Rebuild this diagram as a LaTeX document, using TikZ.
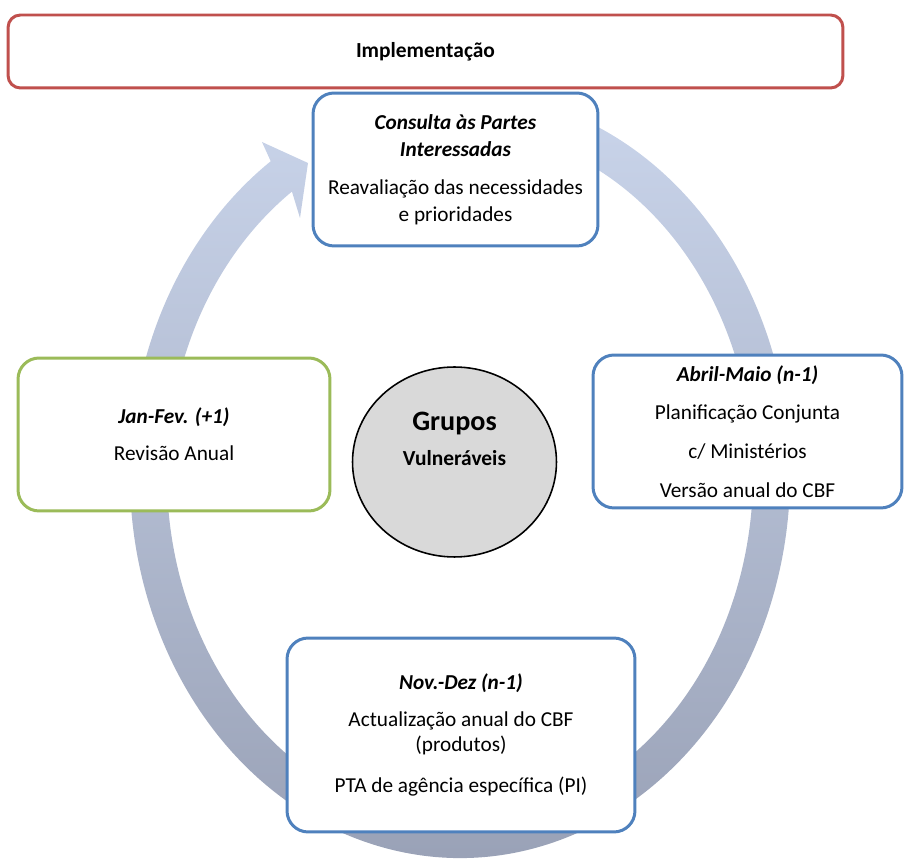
\documentclass[tikz,border=0pt]{standalone}
\usepackage{fontspec}
\setmainfont{Carlito}
\usepackage{xcolor}
\usepackage{tikz}
\usetikzlibrary{positioning, shapes.geometric}

\definecolor{implred}{HTML}{C0504D}
\definecolor{stepblue}{HTML}{4F81BD}
\definecolor{stepgreen}{HTML}{9BBB59}
\definecolor{ringtop}{HTML}{C9D4EA}
\definecolor{ringbottom}{HTML}{979FB4}
\definecolor{hubgray}{HTML}{D9D9D9}

\newcommand{\boxhead}[1]{\textbf{\textit{#1}}}

\begin{document}
\begin{tikzpicture}[
    x=0.02cm, y=0.02cm,
    phase/.style={rectangle, rounded corners=12pt, draw=stepblue, line width=1.7pt, fill=white,
        align=center, inner sep=0pt, font=\fontsize{12.1}{15.3}\selectfont},
    impl/.style={rectangle, rounded corners=7pt, draw=implred, line width=1.7pt, fill=white,
        inner sep=0pt, font=\fontsize{12.2}{14}\selectfont\bfseries},
    hub/.style={ellipse, draw, line width=0.9pt, fill=hubgray, inner sep=0pt},
    ring/.style={top color=ringtop, bottom color=ringbottom}
]
    \useasboundingbox (0,0) rectangle (904,859);

    % Cycle arrow
    \coordinate (ringc) at (460,384);
    \shade[ring] ([shift={(ringc)}]75:330 and 383)
        arc[start angle=75, end angle=-235, x radius=330, y radius=383]
        -- (262,717) -- (308,696) -- (300,641)
        -- ([shift={(ringc)}]-235:293 and 346)
        arc[start angle=-235, end angle=75, x radius=293, y radius=346] -- cycle;

    % Implementation bar
    \node[impl, minimum width=16.7cm, minimum height=1.46cm] (impl) at (425.5,807.5) {Implementação};

    % Phases
    \node[phase, minimum width=5.7cm, minimum height=3.06cm] (consulta) at (455.5,689.5)
        {\boxhead{Consulta às Partes}\\\boxhead{Interessadas}\\[6.2pt]Reavaliação das necessidades\\e prioridades};
    \node[phase, minimum width=6.18cm, minimum height=3.06cm] (abril) at (747.5,427.5)
        {\boxhead{Abril-Maio (n-1)}\\[6.8pt]Planificação Conjunta\\[6.8pt]c/ Ministérios\\[6.8pt]Versão anual do CBF};
    \node[phase, draw=stepgreen, minimum width=6.24cm, minimum height=3.06cm] (janfev) at (174,424.5)
        {\boxhead{Jan-Fev. (+1)}\\[5.7pt]Revisão Anual};
    \node[phase, minimum width=6.96cm, minimum height=3.88cm] (novdez) at (461,124)
        {\boxhead{Nov.-Dez (n-1)}\\[5.7pt]Actualização anual do CBF\\[-1.2pt](produtos)\\[8pt]PTA de agência específica (PI)};

    % Centre
    \node[hub, minimum width=4.08cm, minimum height=3.8cm] (hub) at (454.5,397) {};
    \node[align=center, font=\fontsize{12.2}{20}\selectfont\bfseries] (hubtext) at ([yshift=13pt]hub.center)
        {{\fontsize{16}{20}\selectfont Grupos}\\Vulneráveis};
\end{tikzpicture}
\end{document}
